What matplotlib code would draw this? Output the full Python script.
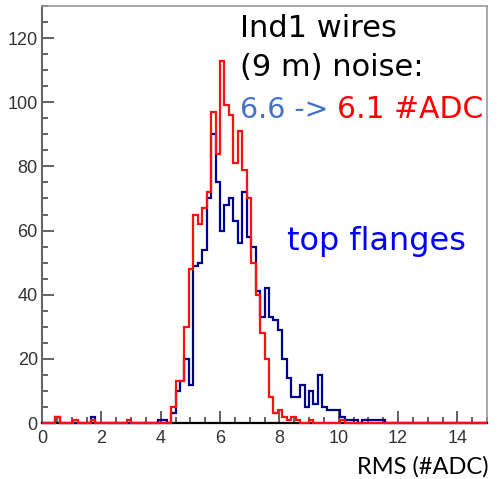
import numpy as np
import matplotlib.pyplot as plt

# histogram binning: 100 bins from 0 to 15 RMS (#ADC)
bin_edges = np.linspace(0, 15, 101)

# counts (blue = before, red = after)
blue_counts = [
    0, 0, 0, 2, 0, 0, 0, 0, 0, 0,
    0, 2, 0, 0, 0, 0, 0, 0, 0, 0,
    0, 0, 0, 0, 0, 0, 1, 1, 0, 3,
    10, 13, 20, 12, 49, 50, 54, 70, 90, 75,
    60, 68, 70, 63, 56, 72, 58, 55, 41, 33,
    42, 33, 32, 29, 20, 14, 8, 8, 12, 5,
    10, 6, 15, 5, 4, 4, 4, 2, 1, 1,
    1, 0, 1, 1, 1, 1, 1, 0, 0, 0,
    0, 0, 0, 0, 0, 0, 0, 0, 0, 0,
    0, 0, 0, 0, 0, 0, 0, 0, 0, 0,
]
red_counts = [
    0, 0, 0, 2, 0, 0, 0, 1, 0, 0,
    0, 1, 0, 0, 0, 0, 0, 0, 0, 1,
    0, 0, 0, 0, 0, 0, 0, 0, 0, 5,
    13, 13, 30, 48, 65, 62, 67, 72, 97, 84,
    113, 99, 96, 81, 91, 79, 70, 50, 40, 28,
    20, 8, 3, 4, 2, 1, 2, 1, 0, 0,
    1, 0, 0, 0, 0, 0, 0, 1, 0, 0,
    0, 0, 0, 0, 0, 0, 0, 0, 0, 0,
    0, 0, 0, 0, 0, 0, 0, 0, 0, 0,
    0, 0, 0, 0, 0, 0, 0, 0, 0, 0,
]

x_ticks = [0, 2, 4, 6, 8, 10, 12, 14]
y_ticks = [0, 20, 40, 60, 80, 100, 120]

W, H = 497, 479
fig = plt.figure(figsize=(W / 100, H / 100), dpi=100)
ax = fig.add_axes([42 / W, 1 - 423 / H, 445 / W, 417 / H])

ax.stairs(blue_counts, bin_edges, color='#00008c', lw=1.6, zorder=3, clip_on=False)
ax.stairs(red_counts, bin_edges, color='#ff1010', lw=1.6, zorder=4, clip_on=False)

ax.set_xlim(0, 15)
ax.set_ylim(0, 130)
ax.set_xticks(x_ticks)
ax.set_yticks(y_ticks)
ax.set_xticks(np.arange(0, 15.01, 0.5), minor=True)
ax.set_yticks(np.arange(0, 130.1, 5), minor=True)

tick_font = ['Liberation Sans Narrow', 'Liberation Sans']
ax.tick_params(which='both', direction='in', color='#555555', width=1.3)
ax.tick_params(which='major', length=8.5)
ax.tick_params(which='minor', length=4.5)
ax.tick_params(axis='x', pad=5, labelsize=13, labelcolor='#333333')
ax.tick_params(axis='y', pad=3, labelsize=13, labelcolor='#333333')
for lab in ax.get_xticklabels() + ax.get_yticklabels():
    lab.set_family(tick_font)

ax.spines['left'].set_color('#666666')
ax.spines['left'].set_linewidth(1.5)
ax.spines['bottom'].set_color('black')
ax.spines['bottom'].set_linewidth(1.6)
for s in ['top', 'right']:
    ax.spines[s].set_color('#999999')
    ax.spines[s].set_linewidth(1.2)

# annotations
txt_font = 'DejaVu Sans'
fig.text(240 / W, 1 - 37 / H, 'Ind1 wires', fontsize=22, family=txt_font, color='black')
fig.text(240 / W, 1 - 76 / H, '(9 m) noise:', fontsize=22, family=txt_font, color='black')
fig.text(240 / W, 1 - 118 / H, '6.6 ->', fontsize=20.5, family=txt_font, color='#4472c4')
fig.text(337 / W, 1 - 118 / H, '6.1 #ADC', fontsize=21.5, family=txt_font, color='#ff0000')
fig.text(287 / W, 1 - 250 / H, 'top flanges', fontsize=23, family=txt_font, color='#0000ff')
fig.text(357 / W, 1 - 474 / H, 'RMS (#ADC)', fontsize=17, family='Lato', color='black')

fig.savefig('out.png', dpi=100)
